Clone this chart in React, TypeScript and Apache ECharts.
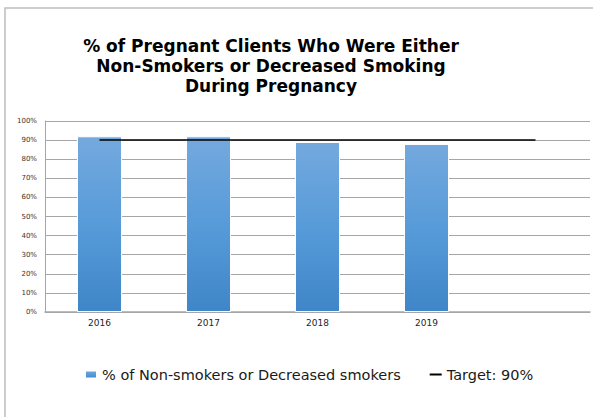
import React, { useEffect, useRef } from "react";
import * as echarts from "echarts";

const categories = ["2016", "2017", "2018", "2019", ""];
const smokerValues = [92, 92, 89, 88, null];
const targetValues = [90, 90, 90, 90, 90];
const yTicks = [0, 10, 20, 30, 40, 50, 60, 70, 80, 90, 100];
const titleLines = [
  "% of Pregnant Clients Who Were Either",
  "Non-Smokers or Decreased Smoking",
  "During Pregnancy",
];
const seriesNames = ["% of Non-smokers or Decreased smokers", "Target: 90%"];

export default function App() {
  const ref = useRef<HTMLDivElement>(null);
  useEffect(() => {
    if (!ref.current) return;
    const chart = echarts.init(ref.current, null, { renderer: "svg" });
    const barGradient = new echarts.graphic.LinearGradient(0, 0, 0, 1, [
      { offset: 0, color: "#74a9de" },
      { offset: 0.5, color: "#579bd9" },
      { offset: 1, color: "#3f86c8" },
    ]);
    chart.setOption({
      animation: false,
      backgroundColor: "#ffffff",
      graphic: [
        {
          type: "rect",
          shape: { x: 5, y: 8, width: 620, height: 440 },
          style: { fill: "none", stroke: "#bdbdbd", lineWidth: 1.5 },
          silent: true,
          z: -10,
        },
        {
          type: "text",
          x: 271,
          y: 36,
          style: {
            text: titleLines.join("\n"),
            font: "bold 17px 'DejaVu Sans'",
            textAlign: "center",
            textVerticalAlign: "top",
            lineHeight: 20,
            fill: "#000000",
          },
        },
      ],
      grid: { left: 45, right: 3, top: 121, bottom: 105, containLabel: false },
      legend: {
        left: 84,
        top: 367,
        padding: 0,
        itemWidth: 12,
        itemHeight: 8,
        itemGap: 28,
        textStyle: { fontFamily: "DejaVu Sans", fontSize: 14.5, color: "#1a1a1a" },
        data: [
          { name: seriesNames[0], icon: "rect" },
          { name: seriesNames[1], itemStyle: { opacity: 0 } },
        ],
      },
      xAxis: {
        type: "category",
        data: categories,
        boundaryGap: true,
        axisLine: { show: true, lineStyle: { color: "#a6a6a6", width: 1.5 } },
        axisTick: { show: false },
        axisLabel: {
          fontFamily: "DejaVu Sans",
          fontSize: 9,
          color: "#1f1f1f",
          margin: 6,
        },
      },
      yAxis: {
        type: "value",
        min: 0,
        max: 100,
        interval: 10,
        axisLine: { show: true, lineStyle: { color: "#a6a6a6", width: 1 } },
        axisTick: { show: false },
        splitLine: { show: true, lineStyle: { color: "#a6a6a6", width: 1 } },
        axisLabel: {
          fontFamily: "DejaVu Sans",
          fontSize: 7,
          color: "#333333",
          margin: 8,
          formatter: (v: number) => (yTicks.includes(v) ? `${v}%` : ""),
        },
      },
      series: [
        {
          name: seriesNames[0],
          type: "bar",
          data: smokerValues,
          barWidth: 45,
          itemStyle: { color: barGradient, borderColor: "#ffffff", borderWidth: 1 },
          z: 2,
        },
        {
          name: seriesNames[1],
          type: "line",
          data: targetValues,
          symbol: "none",
          showSymbol: false,
          lineStyle: { color: "#000000", width: 1.5 },
          itemStyle: { color: "#000000" },
          z: 5,
        },
      ],
    });
    return () => chart.dispose();
  }, []);
  return <div ref={ref} style={{ width: 593, height: 417, position: "absolute", left: 0, top: 0 }} />;
}
